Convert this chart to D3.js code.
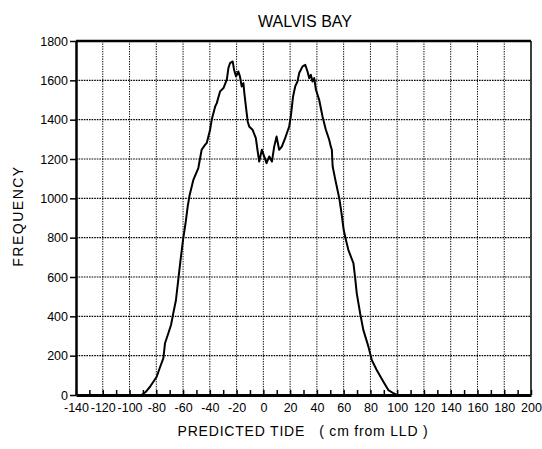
<!DOCTYPE html>
<html>
<head>
<meta charset="utf-8">
<script src="https://cdn.jsdelivr.net/npm/d3@7"></script>
<style>
  body { margin: 0; background: #fff; }
  svg { display: block; }
  text { font-family: "Liberation Sans", Arial, sans-serif; fill: #000; }
</style>
</head>
<body>
<div id="chart"></div>
<script>
// data
const tideCm = [
  -91, -88, -84.7, -79.7, -77.5, -74.7, -73.5, -71, -69, -67.3, -65.3, -63.5, -62, -60, -58, -56.5,
  -55, -53.5, -52.3, -48.6, -46.1, -43.6, -42.3, -39.8, -38.6, -36, -34.8, -32.3, -29.8, -27.3,
  -26.1, -24.9, -22.9, -21.9, -20.4, -18.7, -17.5, -16.2, -14.9, -14.2, -12.9, -11.7, -10.6, -8.1,
  -5.6, -4.4, -3.1, -1.1, 0.6, 2.4, 4.4, 6.4, 8.1, 9.9, 11.8, 13.8, 16.3, 18, 19.3, 20.5, 22.2,
  23.8, 25.5, 26.8, 29.3, 31.3, 33, 34.3, 35.5, 36.7, 38, 39.3, 41.7, 44.2, 46.7, 49.2, 50.4, 51.2,
  51.5, 51.8, 53.8, 55.5, 57, 58.5, 60, 62, 63.5, 67.3, 68.5, 69.8, 72.3, 74.7, 78.5, 81, 84.7,
  89.7, 93.4, 97.2, 99.7
];
const frequency = [
  0, 15, 42, 93, 136, 187, 263, 314, 356, 416, 483, 590, 680, 790, 880, 960,
  1020, 1060, 1094, 1154, 1247, 1272, 1281, 1349, 1399, 1467, 1484, 1544, 1561, 1603,
  1663, 1688, 1696, 1654, 1620, 1645, 1620, 1569, 1586, 1535, 1459, 1391, 1365, 1349,
  1306, 1247, 1187, 1247, 1213, 1179, 1213, 1187, 1263, 1314, 1247, 1263, 1306, 1340, 1365, 1416, 1518,
  1569, 1594, 1637, 1671, 1679, 1645, 1611, 1628, 1594, 1611, 1552, 1501, 1416, 1349, 1298, 1263, 1247,
  1200, 1162, 1094, 1040, 990, 920, 840, 780, 738, 670, 602, 517, 416, 331, 246, 178, 127,
  68, 25, 9, 0
];
const xTicks = d3.range(-140, 201, 20);
const xMinorTicks = d3.range(-140, 201, 10);
const yTicks = d3.range(0, 1801, 200);

const width = 542, height = 449;

const svg = d3.select("#chart").append("svg")
  .attr("width", width)
  .attr("height", height);

const x = d3.scaleLinear().domain([-140, 200]).range([76, 531]);
const y = d3.scaleLinear().domain([0, 1800]).range([395, 41]);

// dotted grid
svg.append("g")
  .selectAll("line")
  .data(xTicks.slice(1, -1))
  .join("line")
  .attr("x1", d => x(d)).attr("x2", d => x(d))
  .attr("y1", y(1800)).attr("y2", y(0))
  .attr("stroke", "#000")
  .attr("stroke-width", 1)
  .attr("stroke-dasharray", "1.3,1.2");

svg.append("g")
  .selectAll("line")
  .data(yTicks.slice(1, -1))
  .join("line")
  .attr("x1", x(-140)).attr("x2", x(200))
  .attr("y1", d => y(d)).attr("y2", d => y(d))
  .attr("stroke", "#000")
  .attr("stroke-width", 1.2)
  .attr("stroke-dasharray", "1.6,1");

// curve
const points = tideCm.map((t, i) => [t, frequency[i]]);
svg.append("path")
  .datum(points)
  .attr("fill", "none")
  .attr("stroke", "#000")
  .attr("stroke-width", 2)
  .attr("stroke-linejoin", "round")
  .attr("d", d3.line().x(d => x(d[0])).y(d => y(d[1])));

// frame
svg.append("line")
  .attr("x1", x(200)).attr("x2", x(200))
  .attr("y1", y(1800)).attr("y2", y(0))
  .attr("stroke", "#000").attr("stroke-width", 1.5);
svg.append("line")
  .attr("x1", x(-140)).attr("x2", x(200))
  .attr("y1", y(1800)).attr("y2", y(1800))
  .attr("stroke", "#000").attr("stroke-width", 2.5);

// x axis
const xAxisG = svg.append("g")
  .attr("transform", "translate(0," + y(0) + ")")
  .call(d3.axisBottom(x).tickValues(xTicks).tickSize(0).tickPadding(8).tickFormat(d => String(d)));
xAxisG.select(".domain").attr("stroke-width", 3);
xAxisG.selectAll("text").attr("font-size", "12.5px").attr("font-family", "Liberation Sans, Arial, sans-serif");

svg.append("g")
  .attr("transform", "translate(0," + y(0) + ")")
  .call(d3.axisBottom(x).tickValues(xMinorTicks).tickSize(-5).tickFormat(""))
  .call(g => g.select(".domain").remove())
  .selectAll("line").attr("stroke-width", 1.5);

// y axis
const yAxisG = svg.append("g")
  .attr("transform", "translate(" + x(-140) + ",0)")
  .call(d3.axisLeft(y).tickValues(yTicks).tickSize(6).tickPadding(2).tickSizeOuter(0).tickFormat(d => String(d)));
yAxisG.select(".domain").attr("stroke-width", 2.5);
yAxisG.selectAll("line").attr("stroke-width", 1.5);
yAxisG.selectAll("text").attr("font-size", "12.5px").attr("font-family", "Liberation Sans, Arial, sans-serif");

// title and axis labels
svg.append("text")
  .attr("x", 305).attr("y", 27)
  .attr("text-anchor", "middle")
  .attr("font-size", "16px")
  .text("WALVIS BAY");

svg.append("text")
  .attr("x", 303).attr("y", 436)
  .attr("text-anchor", "middle")
  .attr("font-size", "14px")
  .attr("letter-spacing", "0.8px")
  .style("white-space", "pre")
  .text("PREDICTED TIDE   ( cm from LLD )");

svg.append("text")
  .attr("transform", "translate(23,216) rotate(-90)")
  .attr("text-anchor", "middle")
  .attr("font-size", "14px")
  .attr("letter-spacing", "1.5px")
  .text("FREQUENCY");
</script>
</body>
</html>
